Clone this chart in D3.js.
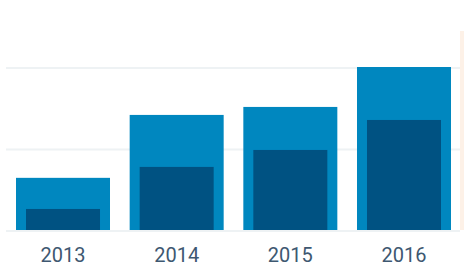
<!DOCTYPE html>
<html>
<head>
<meta charset="utf-8">
<script src="https://cdn.jsdelivr.net/npm/d3@7"></script>
<style>
  body { margin: 0; background: #fff; }
  svg { display: block; }
</style>
</head>
<body>
<div id="chart"></div>
<script>
// Chart data
var years = ["2013", "2014", "2015", "2016"];
var totalValues = [32, 70.6, 75.5, 100];
var innerValues = [12.9, 38.7, 49.1, 67.5];
var gridTicks = [0, 50, 100];

var width = 464,
    height = 268;

var data = years.map(function(y, i) {
  return {year: y, total: totalValues[i], inner: innerValues[i]};
});

// Scales
var x = d3.scaleBand()
    .domain(years)
    .range([6, 461])
    .paddingInner(0.173)
    .paddingOuter(0.088);

var y = d3.scaleLinear()
    .domain([0, 100])
    .range([230, 67]);

var svg = d3.select("#chart").append("svg")
    .attr("width", width)
    .attr("height", height);

// Gridlines
svg.selectAll(".grid")
    .data(gridTicks)
  .enter().append("line")
    .attr("class", "grid")
    .attr("x1", 6)
    .attr("x2", 460)
    .attr("y1", function(d) { return y(d) + 1; })
    .attr("y2", function(d) { return y(d) + 1; })
    .attr("stroke", "#eef2f4")
    .attr("stroke-width", 2);

// Highlight strip on the right
svg.append("rect")
    .attr("x", 460)
    .attr("y", 31)
    .attr("width", 4)
    .attr("height", y(0) - 31)
    .attr("fill", "#fdf1e7");

// Outer bars
svg.selectAll(".bar-total")
    .data(data)
  .enter().append("rect")
    .attr("class", "bar-total")
    .attr("x", function(d) { return x(d.year); })
    .attr("y", function(d) { return y(d.total); })
    .attr("width", x.bandwidth())
    .attr("height", function(d) { return y(0) - y(d.total); })
    .attr("fill", "#0087bf");

// Inner bars
var inset = 10;
svg.selectAll(".bar-inner")
    .data(data)
  .enter().append("rect")
    .attr("class", "bar-inner")
    .attr("x", function(d) { return x(d.year) + inset; })
    .attr("y", function(d) { return y(d.inner); })
    .attr("width", x.bandwidth() - 2 * inset)
    .attr("height", function(d) { return y(0) - y(d.inner); })
    .attr("fill", "#005282");

// X axis labels
var axis = svg.append("g")
    .attr("transform", "translate(0," + y(0) + ")")
    .call(d3.axisBottom(x).tickSize(0).tickPadding(0));

axis.select(".domain").remove();
axis.selectAll("text")
    .attr("dy", null)
    .attr("y", 32)
    .attr("fill", "#3e5871")
    .style("font-family", "Roboto, sans-serif")
    .style("font-size", "20px");
</script>
</body>
</html>
